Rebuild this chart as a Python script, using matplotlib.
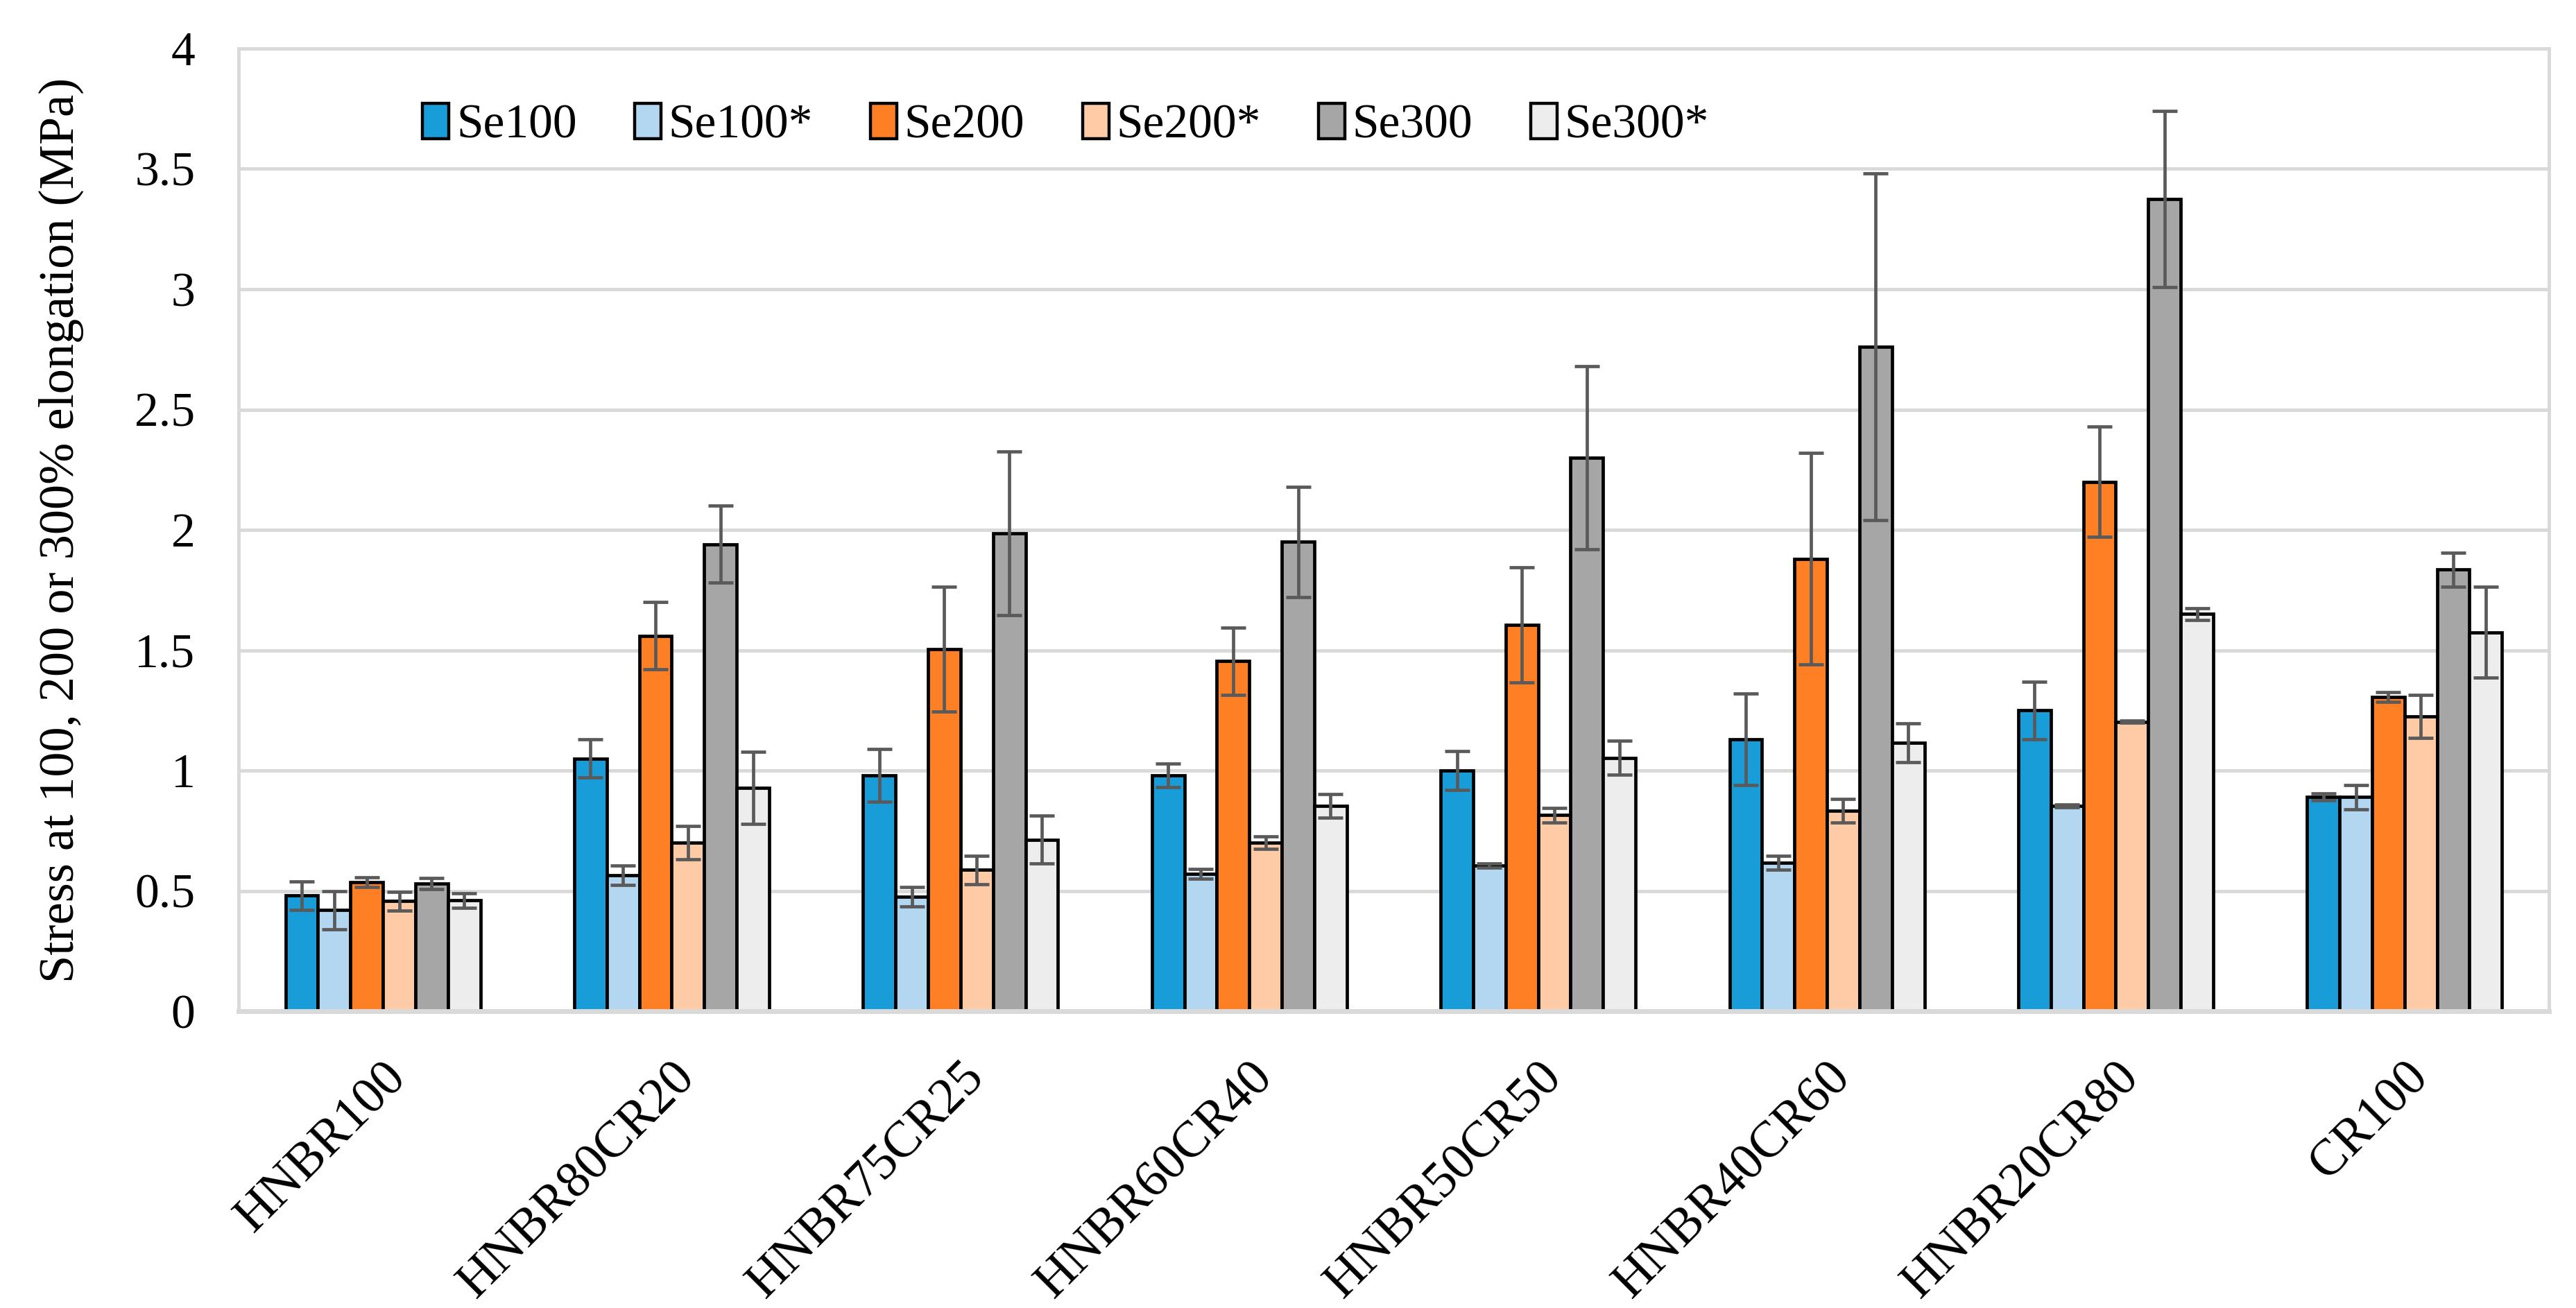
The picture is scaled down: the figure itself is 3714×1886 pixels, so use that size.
import matplotlib
matplotlib.use("Agg")
import matplotlib.pyplot as plt
import numpy as np

categories = ["HNBR100", "HNBR80CR20", "HNBR75CR25", "HNBR60CR40",
              "HNBR50CR50", "HNBR40CR60", "HNBR20CR80", "CR100"]
series_names = ["Se100", "Se100*", "Se200", "Se200*", "Se300", "Se300*"]

se100 = [0.48, 1.05, 0.98, 0.98, 1.00, 1.13, 1.25, 0.89]
se100_err = [0.06, 0.08, 0.11, 0.05, 0.08, 0.19, 0.12, 0.015]
se100s = [0.42, 0.565, 0.475, 0.572, 0.605, 0.617, 0.853, 0.89]
se100s_err = [0.08, 0.04, 0.04, 0.02, 0.008, 0.03, 0.006, 0.05]
se200 = [0.537, 1.56, 1.505, 1.455, 1.605, 1.88, 2.20, 1.305]
se200_err = [0.02, 0.14, 0.26, 0.14, 0.24, 0.44, 0.23, 0.02]
se200s = [0.457, 0.70, 0.587, 0.70, 0.815, 0.833, 1.203, 1.225]
se200s_err = [0.04, 0.07, 0.06, 0.025, 0.03, 0.05, 0.005, 0.09]
se300 = [0.53, 1.94, 1.985, 1.95, 2.30, 2.76, 3.375, 1.835]
se300_err = [0.023, 0.16, 0.34, 0.23, 0.38, 0.72, 0.365, 0.07]
se300s = [0.46, 0.928, 0.713, 0.853, 1.053, 1.115, 1.65, 1.575]
se300s_err = [0.03, 0.15, 0.10, 0.05, 0.07, 0.08, 0.025, 0.19]

values = [se100, se100s, se200, se200s, se300, se300s]
errors = [se100_err, se100s_err, se200_err, se200s_err, se300_err, se300s_err]
colors = ["#189DD9", "#B3D7F0", "#FF7F24", "#FFCBA6", "#A6A6A6", "#EDEDED"]

yticks = [0, 0.5, 1, 1.5, 2, 2.5, 3, 3.5, 4]
ytick_labels = ["0", "0.5", "1", "1.5", "2", "2.5", "3", "3.5", "4"]

plt.rcParams["font.family"] = ["Liberation Serif", "DejaVu Serif"]

fig = plt.figure(figsize=(37.14, 18.86), dpi=100)
ax = fig.add_axes([0.0926, 0.2269, 0.9895 - 0.0926, 0.9629 - 0.2269])

x = np.arange(len(categories))
w = 0.1125
for j, (vals, errs, col, name) in enumerate(zip(values, errors, colors, series_names)):
    xs = x + (j - 2.5) * w
    ax.bar(xs, vals, width=w, color=col, edgecolor="black", linewidth=3.4,
           label=name, zorder=2)
    ax.errorbar(xs, vals, yerr=errs, fmt="none", ecolor="#5A5A5A",
                elinewidth=3.4, capsize=13, capthick=3.4, zorder=3)

ax.set_xlim(-0.5, 7.5)
ax.set_ylim(0, 4)
ax.set_yticks(yticks)
ax.set_yticklabels(ytick_labels, fontsize=50)
ax.set_xticks(x)
ax.set_xticklabels(categories, fontsize=53, rotation=45, ha="right",
                   va="top", rotation_mode="anchor")
ax.tick_params(axis="y", length=0, pad=45)
ax.tick_params(axis="x", length=0, pad=44)

ax.yaxis.grid(True, color="#D9D9D9", linewidth=3.5)
ax.set_axisbelow(True)
for side in ["left", "top", "right"]:
    ax.spines[side].set_color("#D9D9D9")
    ax.spines[side].set_linewidth(3.5)
ax.spines["bottom"].set_color("#D9D9D9")
ax.spines["bottom"].set_linewidth(5)

ax.set_ylabel("Stress at 100, 200 or 300% elongation (MPa)", fontsize=52)
ax.yaxis.set_label_coords(-0.067, 0.5)

leg = ax.legend(ncol=6, loc="center", bbox_to_anchor=(0.358, 0.92),
                frameon=False, fontsize=50, handlelength=0.55, handleheight=0.75,
                handletextpad=0.15, columnspacing=1.2)
for h in leg.legend_handles:
    h.set_linewidth(3.2)

fig.savefig("out.png", dpi=100)
